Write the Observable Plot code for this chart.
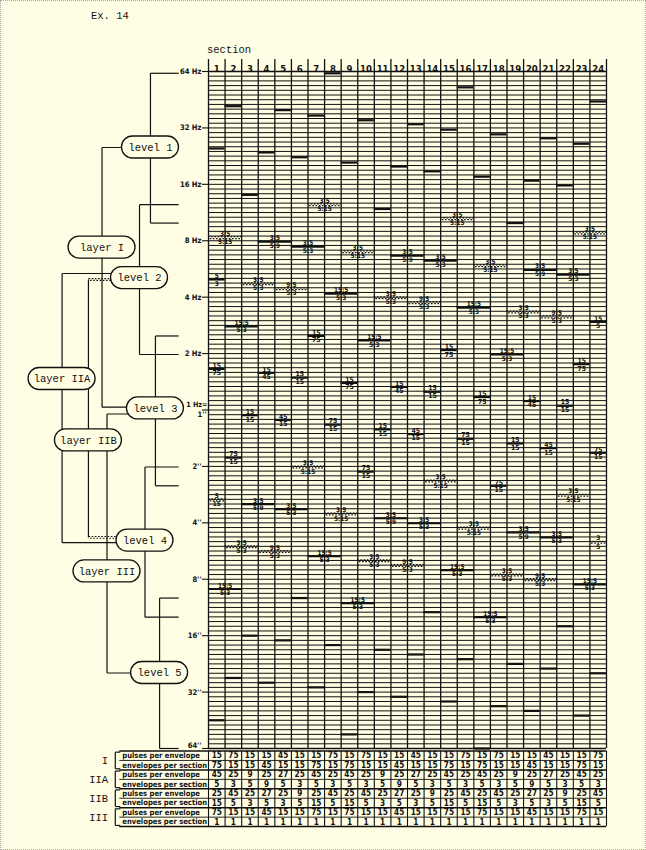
<!DOCTYPE html>
<html><head><meta charset="utf-8">
<script src="https://cdn.jsdelivr.net/npm/d3@7"></script>
<script src="https://cdn.jsdelivr.net/npm/@observablehq/plot@0.6"></script>
<style>
html,body{margin:0;padding:0;background:#fffde3;}
#wrap{position:relative;width:646px;height:850px;background:#fffde3;overflow:hidden;}
#wrap svg{position:absolute;left:0;overflow:visible;}
#edge{position:absolute;left:0;top:0;width:646px;height:850px;box-sizing:border-box;border:1px dotted #a9a9a9;pointer-events:none;}
.lbl{position:absolute;font-family:"Liberation Mono","DejaVu Sans Mono",monospace;font-size:10.5px;color:#151515;white-space:nowrap;}
</style></head><body><div id="wrap">
<div class="lbl" style="left:91px;top:10px">Ex. 14</div>
<div class="lbl" style="left:207px;top:44px">section</div>
<div id="edge"></div>
</div>
<script>
// ---------- data ----------
const sectionNo = [1,2,3,4,5,6,7,8,9,10,11,12,13,14,15,16,17,18,19,20,21,22,23,24];
const level1Hz = [24.86,41.8,14.06,23.67,39.82,22.32,37.25,62.6,20.9,35.16,11.82,19.91,33.48,18.77,31.32,52.67,17.58,29.57,9.94,16.74,28.17,15.79,26.34,44.29];
const level3Hz = [1.657,0.557,0.938,1.578,0.885,1.488,2.483,0.835,1.394,0.469,0.788,1.327,0.744,1.251,2.088,0.702,1.172,0.394,0.663,1.116,0.626,1.053,1.756,0.591];
const level5Sec = [45.25,26.91,16,28.51,16.95,10.08,30.2,17.96,53.82,32,19.03,33.9,20.16,11.99,35.92,21.36,64,38.05,22.63,40.32,23.97,14.25,42.71,25.4];

const level2PlainFrom = [1,2,4,6,8,10,12,14,16,18,20,22,24];
const level2PlainTo   = [1,3,5,7,9,11,13,15,17,19,21,23,24];
const level2PlainHz   = [4.972,2.797,7.919,7.448,4.179,2.352,6.659,6.262,3.515,1.978,5.6,5.267,2.953];
const level2PlainTop  = ["5","15:5","3:5","3:5","15:5","15:5","3:5","3:5","15:5","15:5","3:5","3:5","15"];
const level2PlainBot  = ["3","5:3","5:9","5:3","5:3","5:3","5:9","5:3","5:3","5:3","5:9","5:3","5"];

const level2WavyFrom = [1,3,5,7,9,11,13,15,17,19,21,23];
const level2WavyTo   = [2,4,6,8,10,12,14,16,18,20,22,24];
const level2WavyHz   = [8.315,4.718,4.44,12.46,6.991,3.967,3.733,10.47,5.88,3.336,3.14,8.809];
const level2WavyTop  = ["3:5","3:5","9:5","3:5","3:5","3:5","9:5","3:5","3:5","3:5","9:5","3:5"];
const level2WavyBot  = ["5:15","5:3","5:3","5:15","5:15","5:3","5:3","5:15","5:15","5:3","5:3","5:15"];

const level4PlainFrom = [1,3,5,7,9,11,13,15,17,19,21,23];
const level4PlainTo   = [2,4,6,8,10,12,14,16,18,20,22,24];
const level4PlainHz   = [0.1109,0.3145,0.296,0.1661,0.0932,0.2645,0.2488,0.1397,0.0784,0.2224,0.2093,0.1175];
const level4PlainTop  = ["15:5","3:5","3:5","15:5","15:5","3:5","3:5","15:5","15:5","3:5","3:5","15:5"];
const level4PlainBot  = ["5:3","5:9","5:3","5:3","5:3","5:9","5:3","5:3","5:3","5:9","5:3","5:3"];

const level4WavyFrom = [1,2,4,6,8,10,12,14,16,18,20,22,24];
const level4WavyTo   = [1,3,5,7,9,11,13,15,17,19,21,23,24];
const level4WavyHz   = [0.3315,0.1864,0.176,0.4965,0.2786,0.1568,0.148,0.4175,0.2343,0.1318,0.1244,0.3511,0.1969];
const level4WavyTop  = ["5","3:5","9:5","3:5","3:5","3:5","9:5","3:5","3:5","3:5","9:5","3:5","3"];
const level4WavyBot  = ["15","5:3","5:3","5:15","5:15","5:3","5:3","5:15","5:15","5:3","5:3","5:15","5"];

const pulsesI      = [15,75,15,15,45,15,15,75,15,75,15,15,45,15,15,75,15,75,15,15,45,15,15,75];
const envelopesI   = [75,15,15,45,15,15,75,15,75,15,15,45,15,15,75,15,75,15,15,45,15,15,75,15];
const pulsesIIA    = [45,25,9,25,27,25,45,25,45,25,9,25,27,25,45,25,45,25,9,25,27,25,45,25];
const envelopesIIA = [5,3,5,9,5,3,5,3,5,3,5,9,5,3,5,3,5,3,5,9,5,3,5,3];
const pulsesIIB    = [25,45,25,27,25,9,25,45,25,45,25,27,25,9,25,45,25,45,25,27,25,9,25,45];
const envelopesIIB = [15,5,3,5,3,5,15,5,15,5,3,5,3,5,15,5,15,5,3,5,3,5,15,5];
const pulsesIII    = [75,15,15,45,15,15,75,15,75,15,15,45,15,15,75,15,75,15,15,45,15,15,75,15];
const envelopesIII = [1,1,1,1,1,1,1,1,1,1,1,1,1,1,1,1,1,1,1,1,1,1,1,1];
const tableGroups  = ["I","IIA","IIB","III"];
const tableRowNames = ["pulses per envelope","envelopes per section"];

const tickHz   = [64,32,16,8,4,2,1,1/2,1/4,1/8,1/16,1/32,1/64];
const tickText = ["64 Hz","32 Hz","16 Hz","8 Hz","4 Hz","2 Hz","1 Hz=","2''","4''","8''","16''","32''","64''"];

// tree diagram (x in section units, left of the grid; y in Hz)
const treeNames = ["level 1","layer I","level 2","layer IIA","level 3","layer IIB","level 4","layer III","level 5"];
const treeX     = [-3.5,-6.42,-4.16,-8.83,-3.2,-7.24,-3.83,-6.12,-2.95];
const treeHz    = [25.16,7.36,5.06,1.464,1.019,0.688,0.201,0.1376,0.0395];
const edgeFrom  = ["layer I","layer I","layer IIA","layer IIB","layer IIA","layer IIB","layer III","layer III"];
const edgeTo    = ["level 1","level 3","level 2","level 2","level 4","level 4","level 3","level 5"];
const edgeHz    = [25.16,1.035,5.35,4.97,0.196,0.209,0.952,0.0395];
const edgeWavy  = [false,false,false,true,false,true,false,false];

// ---------- build ----------
const cond = "'DejaVu Sans Condensed','Liberation Sans Narrow','Arial Narrow',sans-serif";
const mono = "'Liberation Mono','DejaVu Sans Mono',monospace";
const bg = "#fffde3";
const ink = "#111";

const spans = (from, to, hz, top, bot) => from.map((f, i) => ({x1: f - 1, x2: to[i], y: hz[i], top: top[i], bot: bot[i]}));
const l2p = spans(level2PlainFrom, level2PlainTo, level2PlainHz, level2PlainTop, level2PlainBot);
const l2w = spans(level2WavyFrom, level2WavyTo, level2WavyHz, level2WavyTop, level2WavyBot);
const l4p = spans(level4PlainFrom, level4PlainTo, level4PlainHz, level4PlainTop, level4PlainBot);
const l4w = spans(level4WavyFrom, level4WavyTo, level4WavyHz, level4WavyTop, level4WavyBot);
const l3 = sectionNo.map((s, i) => ({x1: s - 1, x2: s, y: level3Hz[i], top: String(pulsesI[i]), bot: String(envelopesI[i])}));
const l1 = sectionNo.map((s, i) => ({x1: s - 1, x2: s, y: level1Hz[i]}));
const l5 = sectionNo.map((s, i) => ({x1: s - 1, x2: s, y: 1 / level5Sec[i]}));

const gridHz = d3.range(-72, 73).map(k => Math.pow(2, k / 12));

function plainMarks(data, fs) {
  return [
    Plot.ruleY(data, {x1: "x1", x2: "x2", y: "y", stroke: ink, strokeWidth: 2.2}),
    Plot.text(data, {x: d => (d.x1 + d.x2) / 2, y: "y", text: "top", lineAnchor: "bottom", dy: -1.3, fontSize: fs, fontWeight: "bold", fontFamily: cond}),
    Plot.text(data, {x: d => (d.x1 + d.x2) / 2, y: "y", text: "bot", lineAnchor: "top", dy: 1.6, fontSize: fs, fontWeight: "bold", fontFamily: cond})
  ];
}
function wavyMarks(data, fs) {
  return [
    Plot.ruleY(data, {x1: "x1", x2: "x2", y: "y", dy: -0.9, stroke: ink, strokeWidth: 1.25, strokeDasharray: "1.6,1.6"}),
    Plot.ruleY(data, {x1: "x1", x2: "x2", y: "y", dy: 0.9, stroke: ink, strokeWidth: 1.25, strokeDasharray: "1.6,1.6", strokeDashoffset: 1.6}),
    Plot.text(data, {x: d => (d.x1 + d.x2) / 2, y: "y", text: "top", lineAnchor: "bottom", dy: -1.8, fontSize: fs, fontWeight: "bold", fontFamily: cond}),
    Plot.text(data, {x: d => (d.x1 + d.x2) / 2, y: "y", text: "bot", lineAnchor: "top", dy: 2.0, fontSize: fs, fontWeight: "bold", fontFamily: cond})
  ];
}

// tree geometry from node table
const node = Object.fromEntries(treeNames.map((n, i) => [n, {name: n, x: treeX[i], y: treeHz[i], level: n.startsWith("level")}]));
const nodes = Object.values(node);
const axisX = -1.8;
const ranges = {
  "level 1": level1Hz,
  "level 2": level2PlainHz.concat(level2WavyHz),
  "level 3": level3Hz,
  "level 4": level4PlainHz.concat(level4WavyHz),
  "level 5": level5Sec.map(s => 1 / s)
};
const segs = [];
for (const [name, vals] of Object.entries(ranges)) {
  const n = node[name];
  for (const v of [d3.max(vals), d3.min(vals)]) {
    segs.push({x1: n.x, y1: n.y, x2: n.x, y2: v, wavy: false});
    segs.push({x1: n.x, y1: v, x2: axisX, y2: v, wavy: false});
  }
}
edgeFrom.forEach((f, i) => {
  const a = node[f], b = node[edgeTo[i]];
  segs.push({x1: a.x, y1: a.y, x2: a.x, y2: edgeHz[i], wavy: false});
  segs.push({x1: a.x, y1: edgeHz[i], x2: b.x, y2: edgeHz[i], wavy: edgeWavy[i]});
});

const ticks = tickHz.map((v, i) => ({v, t: tickText[i]}));
const tickFont = {textAnchor: "end", fontSize: 7.6, fontWeight: "bold", fontFamily: cond};

const main = Plot.plot({
  width: 646, height: 752,
  marginLeft: 208, marginRight: 40, marginTop: 71, marginBottom: 4,
  style: {background: "transparent", overflow: "visible", fontFamily: cond, color: ink},
  x: {domain: [0, 24], axis: null},
  y: {type: "log", base: 2, domain: [1 / 64, 64], axis: null},
  marks: [
    Plot.ruleY(gridHz, {x1: 0, x2: 24, stroke: ink, strokeWidth: 1}),
    Plot.ruleY([1 / 64, 64], {x1: 0, x2: 24, stroke: ink, strokeWidth: 1.7}),
    Plot.ruleX(d3.range(0, 25), {insetTop: -12, stroke: ink, strokeWidth: 1.3}),
    Plot.text(sectionNo, {x: d => d - 0.5, frameAnchor: "top", dy: -6, text: d => String(d), fontSize: 9.5, fontWeight: "bold", fontFamily: cond}),
    Plot.ruleY(tickHz, {x1: 0, x2: 0, insetLeft: -6, stroke: ink, strokeWidth: 1.1}),
    Plot.ruleY(l1, {x1: "x1", x2: "x2", y: "y", stroke: ink, strokeWidth: 2.2}),
    Plot.ruleY(l5, {x1: "x1", x2: "x2", y: "y", stroke: ink, strokeWidth: 2.2}),
    ...plainMarks(l3, 6.8),
    ...plainMarks(l2p, 6.4),
    ...wavyMarks(l2w, 6.4),
    ...plainMarks(l4p, 6.4),
    ...wavyMarks(l4w, 6.4),
    // tree
    Plot.link(segs.filter(d => !d.wavy), {x1: "x1", y1: "y1", x2: "x2", y2: "y2", stroke: ink, strokeWidth: 1.2}),
    Plot.link(segs.filter(d => d.wavy), {x1: "x1", y1: "y1", x2: "x2", y2: "y2", dy: -0.9, stroke: ink, strokeWidth: 1.1, strokeDasharray: "1.6,1.6"}),
    Plot.link(segs.filter(d => d.wavy), {x1: "x1", y1: "y1", x2: "x2", y2: "y2", dy: 0.9, stroke: ink, strokeWidth: 1.1, strokeDasharray: "1.6,1.6", strokeDashoffset: 1.6}),
    Plot.rect(nodes.filter(d => d.level), {x1: "x", x2: "x", y1: "y", y2: "y", insetLeft: -28.5, insetRight: -28.5, insetTop: -11, insetBottom: -11, rx: 11, fill: bg, stroke: ink, strokeWidth: 1.3}),
    Plot.rect(nodes.filter(d => !d.level), {x1: "x", x2: "x", y1: "y", y2: "y", insetLeft: -33.5, insetRight: -33.5, insetTop: -11, insetBottom: -11, rx: 11, fill: bg, stroke: ink, strokeWidth: 1.3}),
    Plot.text(nodes, {x: "x", y: "y", text: "name", fontFamily: mono, fontSize: 10.5, fill: ink}),
    // y tick labels
    Plot.text(ticks.filter(d => d.v !== 1 && d.v !== 1 / 64), {x: 0, y: "v", dx: -7, text: "t", ...tickFont}),
    Plot.text(ticks.filter(d => d.v === 1), {x: 0, y: "v", dx: -1, dy: -5.5, text: "t", ...tickFont, fontSize: 7.2}),
    Plot.text(ticks.filter(d => d.v === 1), {x: 0, y: "v", dx: -2, dy: 5, text: () => "1''", ...tickFont}),
    Plot.text(ticks.filter(d => d.v === 1 / 64), {x: 0, y: "v", dx: -7, dy: -2.5, text: "t", ...tickFont})
  ]
});
main.style.top = "0px";
document.getElementById("wrap").appendChild(main);

// table
const tableRows = [pulsesI, envelopesI, pulsesIIA, envelopesIIA, pulsesIIB, envelopesIIB, pulsesIII, envelopesIII];
const cells = tableRows.flatMap((vals, r) => vals.map((v, c) => ({r, c, v})));
const rowLabels = tableRows.map((_, r) => ({r, t: tableRowNames[r % 2]}));
const groupLabels = tableGroups.map((g, i) => ({g, r: i * 2}));
const bx = -5.62, bt = 0.3;
const brackets = groupLabels.flatMap(d => [
  {x1: bx, y1: d.r + 0.12, x2: bx, y2: d.r + 1.88},
  {x1: bx, y1: d.r + 0.12, x2: bx + bt, y2: d.r + 0.12},
  {x1: bx, y1: d.r + 1.88, x2: bx + bt, y2: d.r + 1.88}
]);
const table = Plot.plot({
  width: 646, height: 80,
  marginLeft: 208, marginRight: 40, marginTop: 2.5, marginBottom: 1.9,
  style: {background: "transparent", overflow: "visible", fontFamily: cond, color: ink},
  x: {domain: [0, 24], axis: null},
  y: {domain: [0, 8], reverse: true, axis: null},
  marks: [
    Plot.ruleX(d3.range(0, 25), {stroke: ink, strokeWidth: 1.1}),
    Plot.ruleY(d3.range(0, 9), {x1: -5.35, x2: 24, stroke: ink, strokeWidth: d => d % 2 === 0 ? 1.5 : 0.9}),
    Plot.text(cells, {x: d => d.c + 0.5, y: d => d.r + 0.5, text: d => String(d.v), fontSize: 8.2, fontWeight: "bold", fontFamily: cond}),
    Plot.text(rowLabels, {x: -5.2, y: d => d.r + 0.5, text: "t", textAnchor: "start", fontSize: 7.6, fontWeight: "bold", fontFamily: cond}),
    Plot.text(groupLabels, {x: -6.05, y: d => d.r + 1, text: "g", textAnchor: "end", fontSize: 10.5, fontFamily: mono}),
    Plot.link(brackets, {x1: "x1", y1: "y1", x2: "x2", y2: "y2", stroke: ink, strokeWidth: 1.2})
  ]
});
table.style.top = "748px";
document.getElementById("wrap").appendChild(table);
</script></body></html>
